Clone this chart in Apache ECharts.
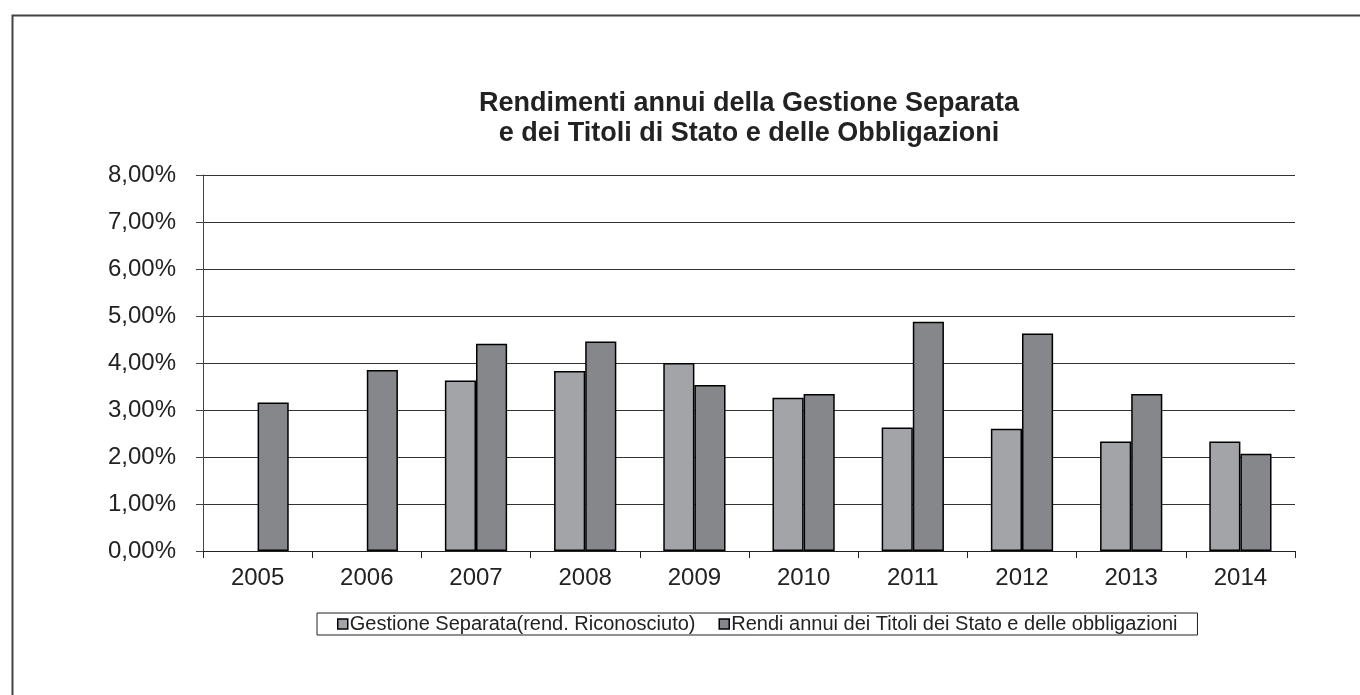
<!DOCTYPE html>
<html>
<head>
<meta charset="utf-8">
<script src="https://cdn.jsdelivr.net/npm/echarts@6/dist/echarts.min.js"></script>
<style>
html,body{margin:0;padding:0;background:#fff;}
#chart{width:1360px;height:695px;}
</style>
</head>
<body>
<div id="chart"></div>
<script>
const categories = ['2005','2006','2007','2008','2009','2010','2011','2012','2013','2014'];
const gestioneSeparata = [null, null, 3.63, 3.83, 4.00, 3.26, 2.63, 2.60, 2.33, 2.33];
const rendiTitoli = [3.16, 3.85, 4.41, 4.46, 3.53, 3.34, 4.88, 4.63, 3.34, 2.07];
const seriesNames = ['Gestione Separata(rend. Riconosciuto)', 'Rendi annui dei Titoli dei Stato e delle obbligazioni'];
const titleText = 'Rendimenti annui della Gestione Separata\ne dei Titoli di Stato e delle Obbligazioni';

const FONT = '"Liberation Sans", Arial, sans-serif';
const chart = echarts.init(document.getElementById('chart'), null, {renderer: 'canvas'});
chart.setOption({
  animation: false,
  backgroundColor: '#fff',
  textStyle: {fontFamily: FONT},
  graphic: [{
    type: 'rect', left: 10, top: 13, silent: true,
    shape: {width: 1400, height: 800},
    style: {fill: 'none', stroke: '#444', lineWidth: 2}
  }],
  title: {
    text: titleText,
    left: 744, top: 84, textAlign: 'center',
    textStyle: {fontFamily: FONT, fontSize: 27, fontWeight: 'bold', color: '#222', lineHeight: 30}
  },
  legend: {
    left: 317, top: 613,
    padding: [1, 20, 1, 20],
    borderColor: '#222', borderWidth: 1,
    itemWidth: 10, itemHeight: 10, itemGap: 23,
    icon: 'rect',
    itemStyle: {borderColor: '#000', borderWidth: 1.5},
    textStyle: {fontFamily: FONT, fontSize: 20, lineHeight: 20, color: '#222', padding: [0, 0, 0, -3]},
    data: seriesNames
  },
  grid: {left: 203, right: 65, top: 175, bottom: 144, containLabel: false},
  xAxis: {
    type: 'category', data: categories,
    axisLine: {lineStyle: {color: '#222', width: 1}},
    axisTick: {show: true, length: 7, lineStyle: {color: '#222'}},
    axisLabel: {fontFamily: FONT, fontSize: 24, color: '#222', margin: 15},
    splitLine: {show: false}
  },
  yAxis: {
    type: 'value', min: 0, max: 8, interval: 1,
    axisLine: {show: true, lineStyle: {color: '#444', width: 1}},
    axisTick: {show: true, length: 7, lineStyle: {color: '#444'}},
    axisLabel: {fontFamily: FONT, fontSize: 24, color: '#222', margin: 27,
      formatter: v => v.toFixed(2).replace('.', ',') + '%'},
    splitLine: {show: true, lineStyle: {color: '#333', width: 1}}
  },
  series: [{
    name: seriesNames[0], type: 'bar', data: gestioneSeparata,
    barGap: '0%', barCategoryGap: '43%',
    itemStyle: {color: '#a3a4a8', borderColor: '#000', borderWidth: 1.5}
  }, {
    name: seriesNames[1], type: 'bar', data: rendiTitoli,
    barGap: '0%', barCategoryGap: '43%',
    itemStyle: {color: '#86878b', borderColor: '#000', borderWidth: 1.5}
  }]
});
</script>
</body>
</html>
